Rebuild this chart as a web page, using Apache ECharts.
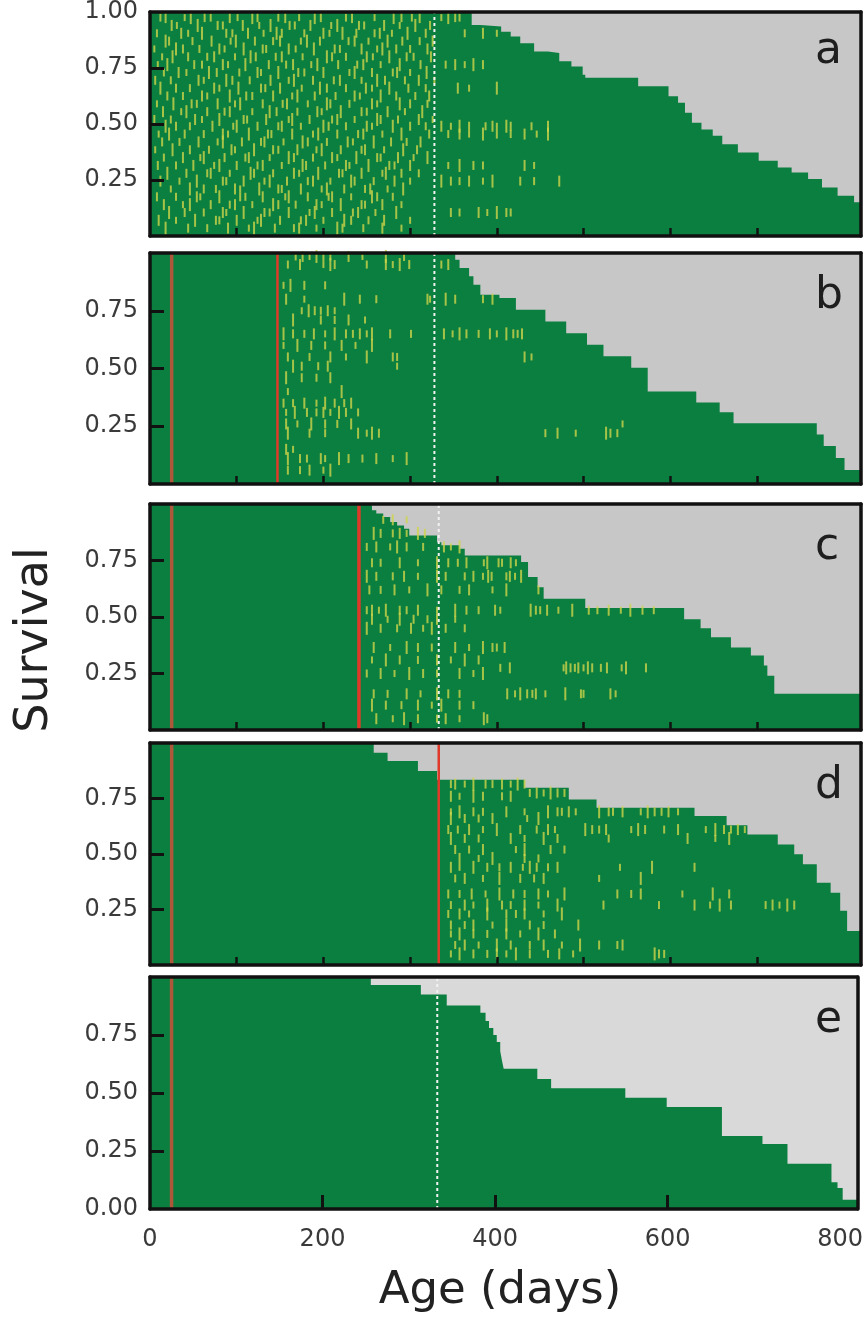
<!DOCTYPE html>
<html>
<head>
<meta charset="utf-8">
<script src="https://cdn.jsdelivr.net/npm/echarts@6/dist/echarts.min.js"></script>
<style>
html, body { margin: 0; padding: 0; background: #fff; }
#chart { width: 866px; height: 1321px; }
</style>
</head>
<body>
<div id="chart"></div>
<script>
// survival steps: at day X the curve drops to value Y
var aDays = [0, 371, 381, 405, 416, 427, 443, 459, 472, 486, 499, 502, 563, 598, 609, 617, 625, 636, 649, 660, 678, 702, 724, 740, 759, 775, 793, 812, 820];
var aSurv = [1, 0.942, 0.935, 0.912, 0.891, 0.861, 0.824, 0.817, 0.780, 0.757, 0.720, 0.706, 0.669, 0.624, 0.595, 0.550, 0.506, 0.476, 0.447, 0.410, 0.373, 0.336, 0.306, 0.284, 0.254, 0.217, 0.180, 0.151, 0.151];
var bDays = [0, 352, 357, 368, 373, 381, 403, 422, 456, 480, 504, 523, 555, 574, 630, 657, 673, 769, 777, 791, 801, 820];
var bSurv = [1, 0.971, 0.935, 0.899, 0.863, 0.819, 0.805, 0.754, 0.704, 0.653, 0.603, 0.553, 0.503, 0.400, 0.353, 0.311, 0.263, 0.214, 0.165, 0.113, 0.061, 0.061];
var cDays = [0, 245, 256, 261, 269, 277, 285, 293, 299, 331, 336, 357, 363, 428, 436, 447, 454, 502, 616, 635, 647, 670, 693, 708, 712, 720, 820];
var cSurv = [1, 0.994, 0.972, 0.958, 0.942, 0.920, 0.905, 0.891, 0.861, 0.831, 0.817, 0.802, 0.772, 0.743, 0.677, 0.632, 0.581, 0.54, 0.49, 0.45, 0.41, 0.365, 0.33, 0.285, 0.24, 0.16, 0.16];
var dDays = [0, 258, 274, 309, 331, 432, 483, 515, 628, 665, 689, 724, 743, 753, 769, 785, 796, 804, 820];
var dSurv = [1, 0.956, 0.919, 0.874, 0.835, 0.798, 0.746, 0.708, 0.671, 0.630, 0.588, 0.543, 0.499, 0.454, 0.371, 0.326, 0.244, 0.153, 0.153];
var eDays = [0, 256, 314, 344, 383, 389, 393, 398, 402, 406, 408, 410, 449, 465, 551, 599, 663, 710, 739, 790, 797, 803, 820];
var eSurv = [1, 0.965, 0.925, 0.877, 0.846, 0.81, 0.78, 0.75, 0.72, 0.68, 0.64, 0.605, 0.56, 0.52, 0.48, 0.44, 0.315, 0.28, 0.195, 0.115, 0.09, 0.04, 0.04];

// yellow event marks: [row level, [days]]
var aMarks = [
  [0.975, [12,18,40,47,63,70,92,101,118,124,148,156,172,190,197,226,233,259,281,290,302,311,336,344,352,357]],
  [0.94, [25,31,55,78,84,107,126,139,161,167,185,209,216,241,247,270,288,306,323]],
  [0.905, [8,36,44,60,88,95,113,131,146,152,178,200,207,222,238,259,265,279,297,318,363,384,400]],
  [0.87, [18,22,49,71,93,99,121,142,150,174,181,196,229,236,252,274,291,311,326]],
  [0.835, [5,30,38,57,80,86,108,130,134,160,168,189,213,219,244,262,268,284,300,320]],
  [0.80, [14,26,44,66,74,98,116,122,145,152,176,204,210,226,250,257,276,296,304,324]],
  [0.765, [9,20,51,60,84,90,110,137,157,165,186,193,217,239,246,266,288,312,341,352,363,373,384]],
  [0.73, [16,33,42,68,77,103,124,128,148,171,178,200,230,236,256,280,285,300,319]],
  [0.695, [6,24,56,62,88,95,115,139,160,166,188,212,219,244,262,271,294,310,328]],
  [0.66, [12,30,46,74,80,102,128,133,150,175,196,204,226,249,256,276,298,318,355,368,400]],
  [0.625, [20,38,60,66,92,111,118,142,164,170,190,214,236,242,266,284,306,322]],
  [0.59, [8,27,48,54,78,98,104,130,153,158,182,204,208,230,256,262,288,300,320]],
  [0.555, [15,36,42,66,86,92,118,138,146,170,193,198,220,244,250,274,294,314]],
  [0.52, [5,24,52,60,80,108,112,134,160,164,184,210,216,236,262,266,286,310,326]],
  [0.49, [18,30,46,72,96,100,124,148,152,174,200,206,226,250,256,280,300,318,336,347,357,368,387,395,400,411,416,440,459]],
  [0.455, [10,22,40,62,84,90,114,136,140,164,188,194,216,240,246,268,290,322,344,357,368,384,400,416,432,446,459]],
  [0.42, [14,34,56,78,84,106,128,132,154,176,182,204,228,234,258,278,296,312]],
  [0.385, [6,26,46,68,94,98,120,142,148,170,192,198,220,244,248,270,292,308]],
  [0.35, [16,38,58,62,86,110,114,138,160,166,188,210,216,238,262,266,286,304,320]],
  [0.315, [9,30,50,74,80,100,124,130,152,176,180,202,226,230,252,276,282,300,344,357,373,384,432,443]],
  [0.28, [20,42,66,70,92,116,120,142,166,172,194,218,222,244,268,272,290,310]],
  [0.245, [12,34,54,84,88,108,132,138,158,182,188,208,232,236,258,282,300,336,347,357,368,384,395,427,443,472]],
  [0.21, [24,46,62,76,98,104,126,148,152,174,198,204,224,248,254,274,292]],
  [0.175, [8,30,54,58,80,104,110,130,156,160,182,206,210,232,256,262,280]],
  [0.14, [16,38,46,70,92,98,118,142,148,168,192,198,220,244,248,268,290]],
  [0.105, [22,40,62,84,88,108,132,138,160,184,190,210,234,240,260,284,347,357,379,389,400,411,416]],
  [0.07, [10,30,52,76,80,100,124,128,150,174,180,200,224,232,252,270,300]],
  [0.035, [18,44,66,90,114,120,144,166,172,192,216,222,246,268,290]]
];
var bMarks = [
  [0.985, [168,176,184,192,200,208,229,245,272,293]],
  [0.95, [159,173,200,208,213,250,272,280,288,299,336,344]],
  [0.86, [154,162,178,202]],
  [0.80, [157,178,224,242,261,320,323,341,352,384,395]],
  [0.75, [175,183,190,197,205,213]],
  [0.71, [165,197,213,229,248]],
  [0.65, [154,165,178,189,202,213,226,234,242,250,256,277,301,339,349,357,365,379,392,400,411,419,424,429]],
  [0.60, [154,170,186,202,221,237,256]],
  [0.55, [159,184,208,226,250,280,285,432,440]],
  [0.51, [165,175,194,205,285]],
  [0.46, [157,175,192,208]],
  [0.40, [159,221]],
  [0.35, [154,165,178,192,202,213,224,232]],
  [0.31, [157,167,181,192,200,208,218,226,240]],
  [0.26, [157,170,186,202,216,232,545]],
  [0.22, [159,184,202,240,250,256,264,456,470,491,526,531,539]],
  [0.15, [157,165]],
  [0.11, [159,173,181,197,202,218,229,245,261,280,296]],
  [0.06, [159,173,184,200,208]]
];
var cMarks = [
  [0.93, [269,280,296]],
  [0.87, [258,266,280,288,296,309,317]],
  [0.81, [250,261,277,285,296,315,339,347,357]],
  [0.74, [256,266,288,309,331,344,355,365,385,389,402,406,416,422]],
  [0.68, [250,261,280,293,309,331,341,363,373,384,390,394,411,415,421,428]],
  [0.62, [253,266,282,299,320,336,357,368,395,411,448]],
  [0.53, [250,256,264,272,288,296,309,331,352,365,379,398,404,439,445,450,458,471,487,506,516,529,543,554,568,581]],
  [0.49, [256,274,288,304,320,331,352]],
  [0.45, [250,266,285,301,315,325,341,363]],
  [0.365, [258,277,296,309,325,352,368,384,395,400,409]],
  [0.31, [256,272,288,309,331,347,363,379]],
  [0.275, [404,415,477,480,485,490,494,500,505,510,520,527,544,549,572]],
  [0.25, [250,266,282,299,315,331,357,373,384]],
  [0.16, [258,274,296,312,331,344,357,412,421,427,435,441,445,456,479,497,500,531,537]],
  [0.11, [256,272,290,309,325,336,357,373]],
  [0.05, [261,280,293,309,331,341,357,385,389]]
];
var dMarks = [
  [0.815, [347,352,363,373,387,395,406,416,424,432]],
  [0.775, [438,446,454,462,470,478]],
  [0.76, [347,357,373,384,406,416]],
  [0.69, [347,357,373,384,411,432,459,470,475,483,491,518,529,534,545,566,574,582,590,598,609]],
  [0.66, [347,363,379,395,435,448]],
  [0.61, [344,355,368,384,400,427,446,459,467,502,510,518,526,555,563,571,593,609,641,652,662,670,678,686]],
  [0.57, [347,363,379,416,432,454,470,529,620,652,668]],
  [0.52, [352,368,384,422,432,462,478]],
  [0.48, [357,379,395,432,448]],
  [0.44, [347,357,373,389,403,416,430,438,446,459,470,542,579,628]],
  [0.39, [352,363,384,403,427,443,454,518,566]],
  [0.32, [344,357,371,387,403,419,432,448,459,478,539,555,566,614,649,668]],
  [0.27, [347,363,373,389,406,416,432,448,470,523,587,628,646,657,670,710,718,726,735,743]],
  [0.23, [344,357,368,389,411,422,432,454,475]],
  [0.18, [347,363,373,395,411,438,454,494]],
  [0.14, [347,357,373,389,411,427,448,467]],
  [0.09, [352,363,379,400,416,438,454,475,496,518,539,545]],
  [0.05, [347,357,373,389,400,411,422,438,459,472,488,582,587,593]]
];
var eMarks = [];

// vertical event lines (days)
var redEarly = 25;
var redLate = [null, 147, 241, 333, null];
var dottedDay = [328, 328, 333, null, 333];

var letters = ['a', 'b', 'c', 'd', 'e'];
var xTicks = [100, 200, 300, 400, 500, 600, 700];
var xTicksE = [200, 400, 600];
var xLabelsE = [0, 200, 400, 600, 800];
var yTicks = [0.25, 0.5, 0.75];
var yLabels = [
  [0.25, 0.5, 0.75, 1],
  [0.25, 0.5, 0.75],
  [0.25, 0.5, 0.75],
  [0.25, 0.5, 0.75],
  [0, 0.25, 0.5, 0.75]
];

var gridTop = [8, 253, 504, 743, 977];
var gridHeight = [228, 231, 226, 222, 232];

var GREEN = '#0b7f40';
var YELLOW = '#cdd44a';
var FONT = 'DejaVu Sans';

var survDays = [aDays, bDays, cDays, dDays, eDays];
var survVals = [aSurv, bSurv, cSurv, dSurv, eSurv];
var marks = [aMarks, bMarks, cMarks, dMarks, eMarks];

var grids = [], xAxes = [], yAxes = [], series = [], graphics = [];

for (var i = 0; i < 5; i++) {
    var last = (i == 4);
    grids.push({
        left: 150, right: 5, top: gridTop[i], height: gridHeight[i],
        show: true, borderWidth: 0,
        backgroundColor: last ? '#d9d9d9' : '#c7c7c7'
    });
    var frame = { show: true, onZero: false, lineStyle: { color: '#111', width: 3.5 } };
    xAxes.push({
        gridIndex: i, type: 'value', min: 0, max: 820, interval: last ? 200 : 100, z: 5,
        axisLine: frame,
        axisTick: { show: true, inside: true, length: last ? 14 : 8,
            customValues: last ? xTicksE : xTicks,
            lineStyle: { color: '#111', width: last ? 3 : 2.5 } },
        axisLabel: { show: last, customValues: xLabelsE, margin: 19,
            fontFamily: FONT, fontSize: 24, color: '#3a3a3a' },
        splitLine: { show: false }
    });
    xAxes.push({
        gridIndex: i, type: 'value', min: 0, max: 820, position: 'top', z: 5,
        axisLine: frame, axisTick: { show: false }, axisLabel: { show: false }, splitLine: { show: false }
    });
    yAxes.push({
        gridIndex: i, type: 'value', min: 0, max: 1, interval: 0.25, z: 5,
        axisLine: frame,
        axisTick: { show: true, inside: true, length: 14, customValues: yTicks,
            lineStyle: { color: '#111', width: 3 } },
        axisLabel: { customValues: yLabels[i], margin: 12, fontFamily: FONT, fontSize: 24,
            color: '#3a3a3a', formatter: function (v) { return v.toFixed(2); } },
        splitLine: { show: false }
    });
    yAxes.push({
        gridIndex: i, type: 'value', min: 0, max: 1, position: 'right', z: 5,
        axisLine: frame, axisTick: { show: false }, axisLabel: { show: false }, splitLine: { show: false }
    });

    var curve = [];
    for (var j = 0; j < survDays[i].length; j++) {
        curve.push([survDays[i][j], survVals[i][j]]);
    }
    series.push({
        type: 'line', xAxisIndex: 2 * i, yAxisIndex: 2 * i, data: curve,
        step: 'end', symbol: 'none', silent: true, z: 2,
        lineStyle: { width: 0 },
        areaStyle: { color: GREEN, opacity: 1, origin: 'start' }
    });

    var pts = [];
    marks[i].forEach(function (row) {
        row[1].forEach(function (d) { pts.push([d, row[0]]); });
    });
    series.push({
        type: 'scatter', xAxisIndex: 2 * i, yAxisIndex: 2 * i, data: pts,
        symbol: 'rect', silent: true, z: 3,
        // dashes are of uneven length in the original
        symbolSize: function (val, params) {
            var h = [8, 11, 7, 13, 9][params.dataIndex % 5];
            return [2, h];
        },
        itemStyle: { color: YELLOW }
    });

    if (dottedDay[i] != null) {
        series.push({
            type: 'line', xAxisIndex: 2 * i, yAxisIndex: 2 * i,
            data: [[dottedDay[i], 0], [dottedDay[i], 1]],
            symbol: 'none', silent: true, z: 4,
            lineStyle: { color: '#f2f2f2', width: 2, type: [3, 3] }
        });
    }
    if (i > 0) {
        series.push({
            type: 'line', xAxisIndex: 2 * i, yAxisIndex: 2 * i,
            data: [[redEarly, 0], [redEarly, 1]],
            symbol: 'none', silent: true, z: 4,
            lineStyle: { color: '#ad573b', width: 3.5 }
        });
    }
    if (redLate[i] != null) {
        series.push({
            type: 'line', xAxisIndex: 2 * i, yAxisIndex: 2 * i,
            data: [[redLate[i], 0], [redLate[i], 1]],
            symbol: 'none', silent: true, z: 4,
            lineStyle: { color: '#e0392a', width: i == 2 ? 3.5 : 2.5 }
        });
    }

    graphics.push({
        type: 'text', left: 815, top: gridTop[i] + 22,
        style: { text: letters[i], font: '44px "DejaVu Sans"', fill: '#1e1e1e' }
    });
}

graphics.push({
    type: 'text', x: 35, y: 640, rotation: Math.PI / 2,
    style: { text: 'Survival', font: '46px "DejaVu Sans"', fill: '#222',
        textAlign: 'center', textVerticalAlign: 'middle' }
});
graphics.push({
    type: 'text', x: 500, y: 1291,
    style: { text: 'Age (days)', font: '45px "DejaVu Sans"', fill: '#222',
        textAlign: 'center', textVerticalAlign: 'middle' }
});

var myChart = echarts.init(document.getElementById('chart'));
myChart.setOption({
    animation: false,
    grid: grids,
    xAxis: xAxes,
    yAxis: yAxes,
    series: series,
    graphic: graphics
});
</script>
</body>
</html>
